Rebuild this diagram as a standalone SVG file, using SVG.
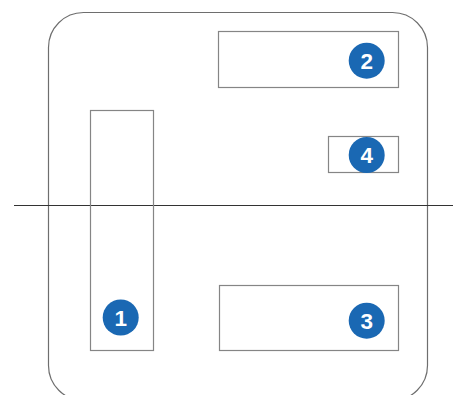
<svg xmlns="http://www.w3.org/2000/svg" width="453" height="395" viewBox="0 0 453 395">
  <style>
    .frame { fill: none; stroke: #6e6e6e; stroke-width: 1.2; }
    .box { fill: #ffffff; stroke: #858585; stroke-width: 1.2; }
    .badge { fill: #1a68b3; }
    .num { fill: #ffffff; font-family: "Liberation Sans", Arial, sans-serif; font-weight: bold; font-size: 22.5px; text-anchor: middle; }
    .rule { stroke: #333333; stroke-width: 1.2; }
  </style>
  <rect class="frame" x="48.5" y="12.5" width="379" height="388" rx="35" ry="35"/>
  <g id="connectors">
    <line class="rule" x1="14" y1="205.5" x2="453" y2="205.5"/>
  </g>
  <g id="node1">
    <rect class="box" x="90.5" y="110.5" width="63" height="240" style="fill:none"/>
    <circle class="badge" cx="120.7" cy="317.5" r="18"/>
    <text class="num" x="120.7" y="325.5">1</text>
  </g>
  <g id="node2">
    <rect class="box" x="218.5" y="31.5" width="180" height="56"/>
    <circle class="badge" cx="366.7" cy="60.7" r="18"/>
    <text class="num" x="366.7" y="68.7">2</text>
  </g>
  <g id="node4">
    <rect class="box" x="328.5" y="136.5" width="70" height="36"/>
    <circle class="badge" cx="366.7" cy="155" r="18"/>
    <text class="num" x="366.7" y="163">4</text>
  </g>
  <g id="node3">
    <rect class="box" x="219.5" y="285.5" width="179" height="65"/>
    <circle class="badge" cx="366.7" cy="320.7" r="18"/>
    <text class="num" x="366.7" y="328.7">3</text>
  </g>
</svg>
